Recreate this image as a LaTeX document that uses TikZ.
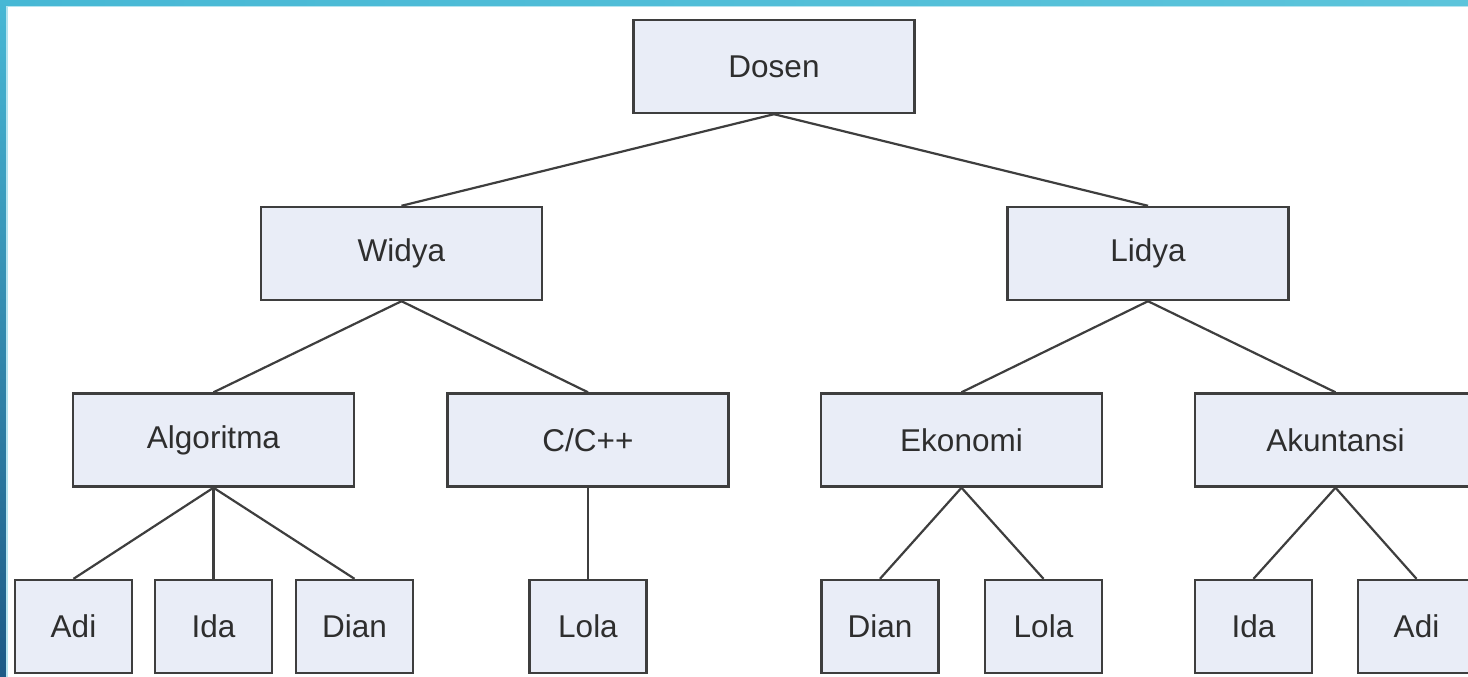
\documentclass[tikz,border=0pt]{standalone}
\usepackage{fontspec}
\setmainfont{Liberation Sans}
\definecolor{boxfill}{HTML}{E9EDF7}
\definecolor{boxline}{HTML}{3E3E3E}
\definecolor{barteal}{HTML}{47B8D5}
\definecolor{bartealb}{HTML}{5CC4DB}
\definecolor{bardark}{HTML}{1D5A86}
\begin{document}
\begin{tikzpicture}[x=1pt,y=-1pt,
        kotak/.style={draw=boxline,fill=boxfill,line width=2.4pt,minimum width=281pt,minimum height=93pt,inner sep=0pt,text=black!82,font=\fontsize{31.5}{36}\selectfont},
        kecil/.style={kotak,minimum width=117pt},
        garis/.style={draw=boxline,line width=2.2pt}]
    \useasboundingbox (0,0) rectangle (1468,677);
    \clip (0,0) rectangle (1468,677);
    \fill[white] (0,0) rectangle (1468,677);
    % bingkai
    \shade[left color=barteal,right color=bartealb] (0,0) rectangle (1468,6);
    \shade[top color=barteal,bottom color=bardark] (0,0) rectangle (6,677);
    \fill[bartealb!45] (6,6) rectangle (1468,7.5);
    \fill[bartealb!45] (6,6) rectangle (7.5,677);
    % level 0-2
    \node[kotak] (dosen) at (774,66.5) {Dosen};
    \node[kotak] (widya) at (401.5,253.5) {Widya};
    \node[kotak] (lidya) at (1148,253.5) {Lidya};
    \node[kotak] (algo) at (213.5,440) {Algoritma};
    \node[kotak] (cpp) at (588,440) {C/C++};
    \node[kotak] (eko) at (961.5,440) {Ekonomi};
    \node[kotak] (aku) at (1335.5,440) {Akuntansi};
    % mahasiswa
    \node[kecil] (adiA) at (73.5,626.5) {Adi};
    \node[kecil] (idaA) at (213.5,626.5) {Ida};
    \node[kecil] (dianA) at (354.5,626.5) {Dian};
    \node[kecil] (lolaA) at (588,626.5) {Lola};
    \node[kecil] (dianB) at (880,626.5) {Dian};
    \node[kecil] (lolaB) at (1043.5,626.5) {Lola};
    \node[kecil] (idaB) at (1253.5,626.5) {Ida};
    \node[kecil] (adiB) at (1416.5,626.5) {Adi};
    % garis
    \draw[garis] (dosen.south) -- (widya.north);
    \draw[garis] (dosen.south) -- (lidya.north);
    \draw[garis] (widya.south) -- (algo.north);
    \draw[garis] (widya.south) -- (cpp.north);
    \draw[garis] (lidya.south) -- (eko.north);
    \draw[garis] (lidya.south) -- (aku.north);
    \draw[garis] (algo.south) -- (adiA.north);
    \draw[garis] (algo.south) -- (idaA.north);
    \draw[garis] (algo.south) -- (dianA.north);
    \draw[garis] (cpp.south) -- (lolaA.north);
    \draw[garis] (eko.south) -- (dianB.north);
    \draw[garis] (eko.south) -- (lolaB.north);
    \draw[garis] (aku.south) -- (idaB.north);
    \draw[garis] (aku.south) -- (adiB.north);
\end{tikzpicture}
\end{document}
